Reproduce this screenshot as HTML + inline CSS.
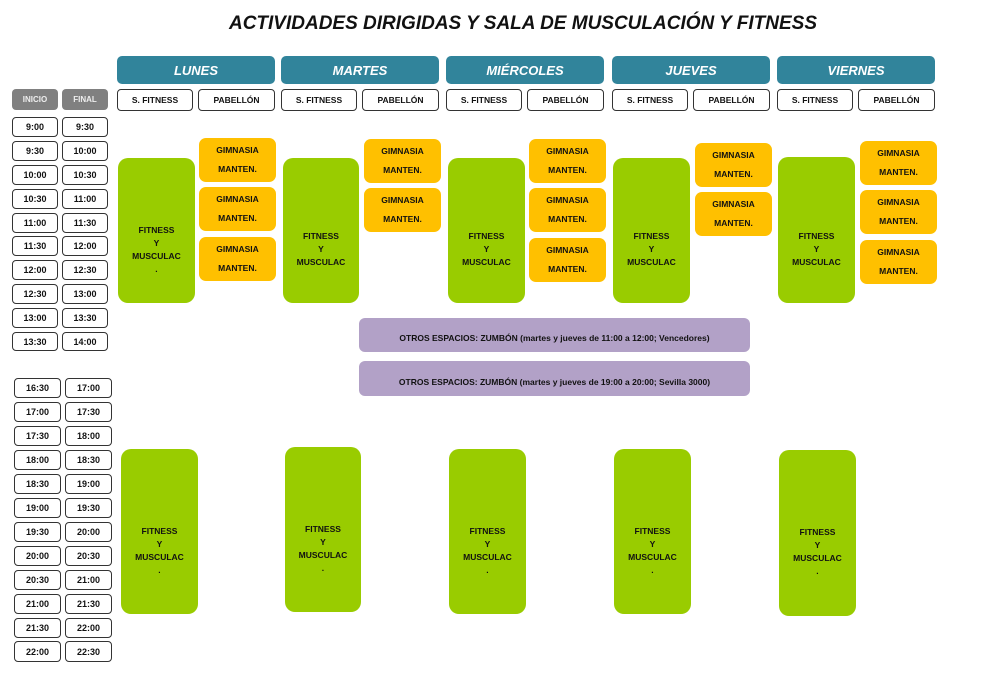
<!DOCTYPE html>
<html><head><meta charset="utf-8"><style>
body{margin:0;width:982px;height:686px;background:#fff;position:relative;overflow:hidden;font-family:"Liberation Sans",sans-serif;font-weight:bold;}
div{position:absolute;box-sizing:border-box;}
.t{border:1.5px solid #333;border-radius:4px;background:#fff;font-size:9px;text-align:center;display:flex;align-items:center;justify-content:center;color:#111;}
.g{background:#808080;color:#eee;border-radius:4px;font-size:8px;display:flex;align-items:center;justify-content:center;}
.d{background:#31849b;color:#fff;border-radius:5px;font-size:13px;font-style:italic;display:flex;align-items:center;justify-content:center;}
.s{border:1.5px solid #333;border-radius:4px;background:#fff;font-size:8.5px;display:flex;align-items:center;justify-content:center;color:#111;}
.gr{background:#99cc00;border-radius:10px;font-size:8.5px;text-align:center;line-height:13px;display:flex;align-items:center;justify-content:center;color:#111;padding-top:38px;}
.o{background:#ffc000;border-radius:7px;font-size:8.5px;text-align:center;line-height:19px;display:flex;align-items:center;justify-content:center;color:#111;}
.p{background:#b2a1c7;border-radius:6px;font-size:8.5px;display:flex;align-items:center;justify-content:center;color:#111;padding-top:6px;}
</style></head><body>
<div style="left:0;width:1046px;top:13px;text-align:center;font-size:19px;font-style:italic;color:#111">ACTIVIDADES DIRIGIDAS Y SALA DE MUSCULACIÓN Y FITNESS</div>

<div class="g" style="left:12px;top:89px;width:46px;height:21px">INICIO</div>
<div class="g" style="left:62px;top:89px;width:46px;height:21px">FINAL</div>

<div class="t" style="left:12px;top:117px;width:46px;height:20px">9:00</div><div class="t" style="left:62px;top:117px;width:46px;height:20px">9:30</div>
<div class="t" style="left:12px;top:141px;width:46px;height:20px">9:30</div><div class="t" style="left:62px;top:141px;width:46px;height:20px">10:00</div>
<div class="t" style="left:12px;top:165px;width:46px;height:20px">10:00</div><div class="t" style="left:62px;top:165px;width:46px;height:20px">10:30</div>
<div class="t" style="left:12px;top:189px;width:46px;height:20px">10:30</div><div class="t" style="left:62px;top:189px;width:46px;height:20px">11:00</div>
<div class="t" style="left:12px;top:213px;width:46px;height:20px">11:00</div><div class="t" style="left:62px;top:213px;width:46px;height:20px">11:30</div>
<div class="t" style="left:12px;top:236px;width:46px;height:20px">11:30</div><div class="t" style="left:62px;top:236px;width:46px;height:20px">12:00</div>
<div class="t" style="left:12px;top:260px;width:46px;height:20px">12:00</div><div class="t" style="left:62px;top:260px;width:46px;height:20px">12:30</div>
<div class="t" style="left:12px;top:284px;width:46px;height:20px">12:30</div><div class="t" style="left:62px;top:284px;width:46px;height:20px">13:00</div>
<div class="t" style="left:12px;top:308px;width:46px;height:20px">13:00</div><div class="t" style="left:62px;top:308px;width:46px;height:20px">13:30</div>
<div class="t" style="left:12px;top:332px;width:46px;height:19px">13:30</div><div class="t" style="left:62px;top:332px;width:46px;height:19px">14:00</div>

<div class="t" style="left:14px;top:378px;width:47px;height:20px">16:30</div><div class="t" style="left:65px;top:378px;width:47px;height:20px">17:00</div>
<div class="t" style="left:14px;top:402px;width:47px;height:20px">17:00</div><div class="t" style="left:65px;top:402px;width:47px;height:20px">17:30</div>
<div class="t" style="left:14px;top:426px;width:47px;height:20px">17:30</div><div class="t" style="left:65px;top:426px;width:47px;height:20px">18:00</div>
<div class="t" style="left:14px;top:450px;width:47px;height:20px">18:00</div><div class="t" style="left:65px;top:450px;width:47px;height:20px">18:30</div>
<div class="t" style="left:14px;top:474px;width:47px;height:20px">18:30</div><div class="t" style="left:65px;top:474px;width:47px;height:20px">19:00</div>
<div class="t" style="left:14px;top:498px;width:47px;height:20px">19:00</div><div class="t" style="left:65px;top:498px;width:47px;height:20px">19:30</div>
<div class="t" style="left:14px;top:522px;width:47px;height:20px">19:30</div><div class="t" style="left:65px;top:522px;width:47px;height:20px">20:00</div>
<div class="t" style="left:14px;top:546px;width:47px;height:20px">20:00</div><div class="t" style="left:65px;top:546px;width:47px;height:20px">20:30</div>
<div class="t" style="left:14px;top:570px;width:47px;height:20px">20:30</div><div class="t" style="left:65px;top:570px;width:47px;height:20px">21:00</div>
<div class="t" style="left:14px;top:594px;width:47px;height:20px">21:00</div><div class="t" style="left:65px;top:594px;width:47px;height:20px">21:30</div>
<div class="t" style="left:14px;top:618px;width:47px;height:20px">21:30</div><div class="t" style="left:65px;top:618px;width:47px;height:20px">22:00</div>
<div class="t" style="left:14px;top:641px;width:47px;height:21px">22:00</div><div class="t" style="left:65px;top:641px;width:47px;height:21px">22:30</div>

<div class="d" style="left:117px;top:56px;width:158px;height:28px">LUNES</div>
<div class="d" style="left:281px;top:56px;width:158px;height:28px">MARTES</div>
<div class="d" style="left:446px;top:56px;width:158px;height:28px">MIÉRCOLES</div>
<div class="d" style="left:612px;top:56px;width:158px;height:28px">JUEVES</div>
<div class="d" style="left:777px;top:56px;width:158px;height:28px">VIERNES</div>

<div class="s" style="left:117px;top:89px;width:76px;height:22px">S. FITNESS</div><div class="s" style="left:198px;top:89px;width:77px;height:22px">PABELLÓN</div>
<div class="s" style="left:281px;top:89px;width:76px;height:22px">S. FITNESS</div><div class="s" style="left:362px;top:89px;width:77px;height:22px">PABELLÓN</div>
<div class="s" style="left:446px;top:89px;width:76px;height:22px">S. FITNESS</div><div class="s" style="left:527px;top:89px;width:77px;height:22px">PABELLÓN</div>
<div class="s" style="left:612px;top:89px;width:76px;height:22px">S. FITNESS</div><div class="s" style="left:693px;top:89px;width:77px;height:22px">PABELLÓN</div>
<div class="s" style="left:777px;top:89px;width:76px;height:22px">S. FITNESS</div><div class="s" style="left:858px;top:89px;width:77px;height:22px">PABELLÓN</div>

<div class="gr" style="left:118px;top:158px;width:77px;height:145px">FITNESS<br>Y<br>MUSCULAC<br>.</div>
<div class="gr" style="left:283px;top:158px;width:76px;height:145px">FITNESS<br>Y<br>MUSCULAC</div>
<div class="gr" style="left:448px;top:158px;width:77px;height:145px">FITNESS<br>Y<br>MUSCULAC</div>
<div class="gr" style="left:613px;top:158px;width:77px;height:145px">FITNESS<br>Y<br>MUSCULAC</div>
<div class="gr" style="left:778px;top:157px;width:77px;height:146px">FITNESS<br>Y<br>MUSCULAC</div>

<div class="o" style="left:199px;top:138px;width:77px;height:44px">GIMNASIA<br>MANTEN.</div>
<div class="o" style="left:199px;top:187px;width:77px;height:44px">GIMNASIA<br>MANTEN.</div>
<div class="o" style="left:199px;top:237px;width:77px;height:44px">GIMNASIA<br>MANTEN.</div>
<div class="o" style="left:364px;top:139px;width:77px;height:44px">GIMNASIA<br>MANTEN.</div>
<div class="o" style="left:364px;top:188px;width:77px;height:44px">GIMNASIA<br>MANTEN.</div>
<div class="o" style="left:529px;top:139px;width:77px;height:44px">GIMNASIA<br>MANTEN.</div>
<div class="o" style="left:529px;top:188px;width:77px;height:44px">GIMNASIA<br>MANTEN.</div>
<div class="o" style="left:529px;top:238px;width:77px;height:44px">GIMNASIA<br>MANTEN.</div>
<div class="o" style="left:695px;top:143px;width:77px;height:44px">GIMNASIA<br>MANTEN.</div>
<div class="o" style="left:695px;top:192px;width:77px;height:44px">GIMNASIA<br>MANTEN.</div>
<div class="o" style="left:860px;top:141px;width:77px;height:44px">GIMNASIA<br>MANTEN.</div>
<div class="o" style="left:860px;top:190px;width:77px;height:44px">GIMNASIA<br>MANTEN.</div>
<div class="o" style="left:860px;top:240px;width:77px;height:44px">GIMNASIA<br>MANTEN.</div>

<div class="p" style="left:359px;top:318px;width:391px;height:34px">OTROS ESPACIOS: ZUMBÓN (martes y jueves de 11:00 a 12:00; Vencedores)</div>
<div class="p" style="left:359px;top:361px;width:391px;height:35px">OTROS ESPACIOS: ZUMBÓN (martes y jueves de 19:00 a 20:00; Sevilla 3000)</div>

<div class="gr" style="left:121px;top:449px;width:77px;height:165px">FITNESS<br>Y<br>MUSCULAC<br>.</div>
<div class="gr" style="left:285px;top:447px;width:76px;height:165px">FITNESS<br>Y<br>MUSCULAC<br>.</div>
<div class="gr" style="left:449px;top:449px;width:77px;height:165px">FITNESS<br>Y<br>MUSCULAC<br>.</div>
<div class="gr" style="left:614px;top:449px;width:77px;height:165px">FITNESS<br>Y<br>MUSCULAC<br>.</div>
<div class="gr" style="left:779px;top:450px;width:77px;height:166px">FITNESS<br>Y<br>MUSCULAC<br>.</div>
</body></html>
